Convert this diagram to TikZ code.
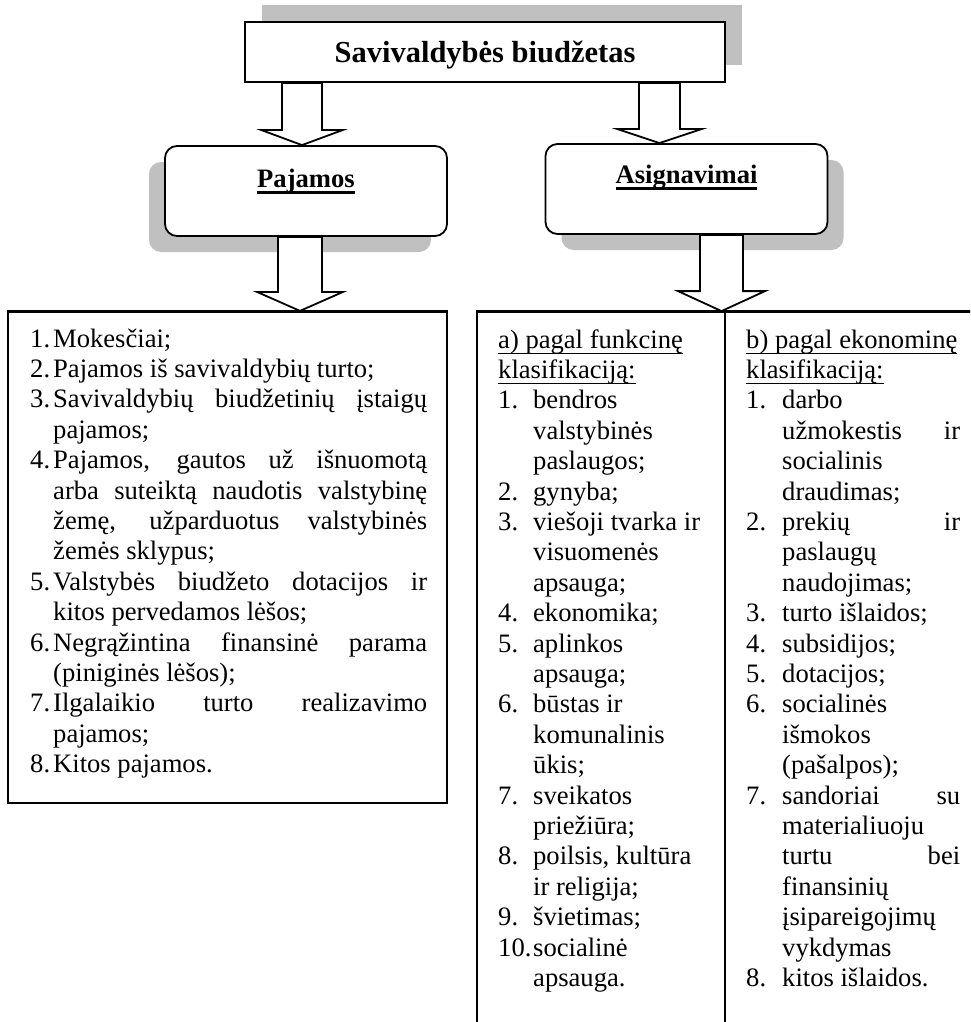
\documentclass[tikz,border=0pt]{standalone}
\usepackage{fontspec}
\setmainfont{Liberation Serif}
\usetikzlibrary{calc,shadows}
\definecolor{shadowgray}{HTML}{C0C0C0}
\newlength\numw
\newlength\txtw
\newcommand\bul[1]{\setbox0=\hbox{#1}\rlap{\rule[-6.5pt]{\wd0}{2.5pt}}\box0}
\newcommand\tul[1]{\setbox0=\hbox{#1}\rlap{\rule[-6pt]{\wd0}{1.5pt}}\box0}
\newcommand\lrow[2]{\noindent\makebox[\numw][l]{#1}#2\par}
\newcommand\jrow[2]{\noindent\makebox[\numw][l]{#1}\makebox[\txtw][s]{#2}\par}
\newcommand\listfont{\fontsize{26.6pt}{30.4pt}\selectfont\lineskiplimit=-100pt\parindent=0pt}
\newcommand\blockarr[6]{%
  \draw[blockarrow] let \p1=(#2), \p2=(#3) in
    (#1pt-#4pt,\y1) -- (#1pt-#4pt,\y2+#6pt) -- (#1pt-#5pt,\y2+#6pt) -- (#1pt,\y2)
    -- (#1pt+#5pt,\y2+#6pt) -- (#1pt+#4pt,\y2+#6pt) -- (#1pt+#4pt,\y1) -- cycle;}
\tikzset{
  titlebox/.style={draw, line width=2pt, fill=white, inner sep=0pt,
    minimum width=480pt, minimum height=60pt,
    general shadow={fill=shadowgray, draw=none, shadow xshift=17pt, shadow yshift=17pt},
    font=\fontsize{30.5pt}{36pt}\selectfont\bfseries, text height=22pt, text depth=0pt},
  roundbox/.style={draw, line width=1.8pt, fill=white, rounded corners=12pt, inner sep=0pt,
    minimum width=282pt, minimum height=90pt,
    font=\fontsize{26.6pt}{30pt}\selectfont\bfseries},
  blockarrow/.style={draw, fill=white, line width=1.8pt, line join=miter},
  listbox/.style={draw, line width=2.2pt, inner sep=0pt},
  boxline/.style={line width=1.8pt},
  listtext/.style={anchor=base west, inner sep=0pt}
}
\begin{document}
\begin{tikzpicture}[x=1pt,y=-1pt]
\useasboundingbox (0,0) rectangle (970,1022);
\clip (0,0) rectangle (970,1022);
% top title
\node[titlebox] (title) at (485,52) {Savivaldybės biudžetas};
% second level
\node[roundbox, text height=0pt, text depth=8pt,
  general shadow={fill=shadowgray, draw=none, shadow xshift=-16pt, shadow yshift=-16pt}]
  (paj) at (306,191) {\bul{Pajamos}};
\node[roundbox, text height=0pt, text depth=12pt,
  general shadow={fill=shadowgray, draw=none, shadow xshift=16pt, shadow yshift=-16pt}]
  (asg) at (686.5,189) {\bul{Asignavimai}};
% list boxes
\node[listbox, minimum width=439pt, minimum height=491pt] (inc) at (227.5,557.5) {};
\node[listbox, line width=1.8pt, minimum width=523pt, minimum height=738pt] (exp) at (738.5,681) {};
\coordinate (div) at (725,312);
\draw[boxline] (div) -- (div |- exp.south);
% block arrows
\blockarr{302}{title.south}{paj.north}{20}{40.5}{15}
\blockarr{659.5}{title.south}{asg.north}{20.5}{42}{14}
\blockarr{300}{paj.south}{inc.north}{22}{43}{19}
\blockarr{721.5}{asg.south}{exp.north}{21.5}{43.5}{20}
% redraw box tops over arrow tips
\draw[boxline, line width=2.2pt] (inc.north west) -- (inc.north east);
\draw[boxline] (exp.north west) -- (exp.north east);
% income list
\node[listtext] (inclist) at (30,347) {\parbox[t]{400pt}{\listfont\setlength\numw{23pt}\setlength\txtw{374pt}%
\lrow{1.}{Mokesčiai;}
\lrow{2.}{Pajamos iš savivaldybių turto;}
\jrow{3.}{Savivaldybių biudžetinių įstaigų}
\lrow{}{pajamos;}
\jrow{4.}{Pajamos, gautos už išnuomotą}
\jrow{}{arba suteiktą naudotis valstybinę}
\jrow{}{žemę, užparduotus valstybinės}
\lrow{}{žemės sklypus;}
\jrow{5.}{Valstybės biudžeto dotacijos ir}
\lrow{}{kitos pervedamos lėšos;}
\jrow{6.}{Negrąžintina finansinė parama}
\lrow{}{(piniginės lėšos);}
\jrow{7.}{Ilgalaikio turto realizavimo}
\lrow{}{pajamos;}
\lrow{8.}{Kitos pajamos.}}};
% functional classification
\node[listtext] (funclist) at (498,348) {\parbox[t]{220pt}{\listfont\setlength\numw{35pt}\setlength\txtw{170pt}%
\noindent\tul{a) pagal funkcinę}\par
\noindent\tul{klasifikaciją:}\par
\lrow{1.}{bendros}
\lrow{}{valstybinės}
\lrow{}{paslaugos;}
\lrow{2.}{gynyba;}
\lrow{3.}{viešoji tvarka ir}
\lrow{}{visuomenės}
\lrow{}{apsauga;}
\lrow{4.}{ekonomika;}
\lrow{5.}{aplinkos}
\lrow{}{apsauga;}
\lrow{6.}{būstas ir}
\lrow{}{komunalinis}
\lrow{}{ūkis;}
\lrow{7.}{sveikatos}
\lrow{}{priežiūra;}
\lrow{8.}{poilsis, kultūra}
\lrow{}{ir religija;}
\lrow{9.}{švietimas;}
\lrow{10.}{socialinė}
\lrow{}{apsauga.}}};
% economic classification
\node[listtext] (econlist) at (746,348) {\parbox[t]{220pt}{\listfont\setlength\numw{36pt}\setlength\txtw{178pt}%
\noindent\tul{b) pagal ekonominę}\par
\noindent\tul{klasifikaciją:}\par
\lrow{1.}{darbo}
\jrow{}{užmokestis ir}
\lrow{}{socialinis}
\lrow{}{draudimas;}
\jrow{2.}{prekių ir}
\lrow{}{paslaugų}
\lrow{}{naudojimas;}
\lrow{3.}{turto išlaidos;}
\lrow{4.}{subsidijos;}
\lrow{5.}{dotacijos;}
\lrow{6.}{socialinės}
\lrow{}{išmokos}
\lrow{}{(pašalpos);}
\jrow{7.}{sandoriai su}
\lrow{}{materialiuoju}
\jrow{}{turtu bei}
\lrow{}{finansinių}
\lrow{}{įsipareigojimų}
\lrow{}{vykdymas}
\lrow{8.}{kitos išlaidos.}}};
\end{tikzpicture}
\end{document}
